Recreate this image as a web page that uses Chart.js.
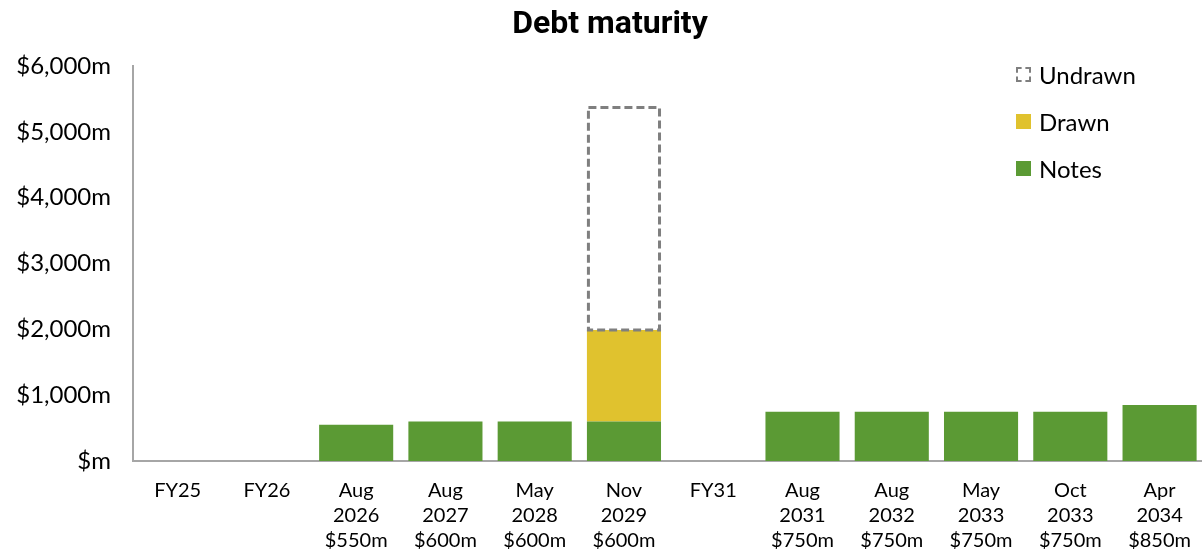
<!DOCTYPE html>
<html lang="en">
<head>
    <meta charset="UTF-8">
    <title>Debt maturity</title>
    <script src="https://cdn.jsdelivr.net/npm/chart.js"></script>
    <style>
        body {
            margin: 0;
            padding: 0;
            background: #ffffff;
            overflow: hidden;
        }

        .wrap {
            position: relative;
            width: 1202px;
            height: 552px;
            overflow: hidden;
        }

        /* legend sits inside the plot, top right, stacked */
        .legend {
            position: absolute;
            left: 1016px;
            top: 60px;
            font-family: Lato, sans-serif;
            font-size: 24px;
            color: #000;
        }

        .legend div {
            height: 47px;
            display: flex;
            align-items: flex-start;
        }

        .legend span.box {
            display: inline-block;
            width: 15px;
            height: 15px;
            margin: 7px 8px 0 0;
            box-sizing: border-box;
        }
    </style>
</head>
<body>

<div class="wrap">
    <!-- canvas a little wider than the window: last bar runs to the edge -->
    <canvas id="debtChart" width="1208" height="552"></canvas>
    <div class="legend" id="legend"></div>
</div>

<script>
    // categories and maturity amounts
    var months = ['FY25', 'FY26', 'Aug 2026', 'Aug 2027', 'May 2028', 'Nov 2029', 'FY31',
                  'Aug 2031', 'Aug 2032', 'May 2033', 'Oct 2033', 'Apr 2034'];
    var tickAmounts = ['', '', '$550m', '$600m', '$600m', '$600m', '',
                       '$750m', '$750m', '$750m', '$750m', '$850m'];

    // series ($m)
    var notes   = [0, 0, 550, 600, 600, 600, 0, 750, 750, 750, 750, 850];
    var drawn   = [0, 0, 0, 0, 0, 1390, 0, 0, 0, 0, 0, 0];
    var undrawn = [0, 0, 0, 0, 0, 3380, 0, 0, 0, 0, 0, 0];

    // y axis ticks
    var yTicks = [0, 1000, 2000, 3000, 4000, 5000, 6000];

    var green = '#5b9a34';
    var yellow = '#e0c22e';
    var grey = '#7f7f7f';

    var tickLabels = months.map(function (m, i) {
        var lines = m.split(' ');
        if (tickAmounts[i]) lines.push(tickAmounts[i]);
        return lines;
    });

    // bars don't support dashed borders, so outline the undrawn bar here
    var dashedOutline = {
        id: 'dashedOutline',
        afterDatasetsDraw: function (chart) {
            var ctx = chart.ctx;
            chart.data.datasets.forEach(function (ds, di) {
                if (!ds.dashed) return;
                var meta = chart.getDatasetMeta(di);
                meta.data.forEach(function (bar, i) {
                    if (!ds.data[i]) return;
                    var p = bar.getProps(['x', 'y', 'base', 'width'], true);
                    ctx.save();
                    ctx.strokeStyle = grey;
                    ctx.lineWidth = 3;
                    ctx.setLineDash([8, 4]);
                    ctx.strokeRect(p.x - p.width / 2 + 1.5, p.y, p.width - 3, p.base - p.y);
                    ctx.restore();
                });
            });
        }
    };

    var ctx = document.getElementById('debtChart').getContext('2d');
    var debtChart = new Chart(ctx, {
        type: 'bar',
        data: {
            labels: tickLabels,
            datasets: [
                { label: 'Notes', data: notes, backgroundColor: green },
                { label: 'Drawn', data: drawn, backgroundColor: yellow },
                { label: 'Undrawn', data: undrawn, backgroundColor: 'rgba(0,0,0,0)', dashed: true }
            ]
        },
        options: {
            responsive: false,
            animation: false,
            layout: { padding: { left: 12, right: 0, top: 0, bottom: 0 } },
            datasets: {
                bar: { categoryPercentage: 1.0, barPercentage: 0.83 }
            },
            plugins: {
                legend: { display: false },
                tooltip: { enabled: false },
                title: {
                    display: true,
                    text: 'Debt maturity',
                    color: '#000',
                    font: { family: 'Roboto', size: 32, weight: 'bold' },
                    padding: { top: 6, bottom: 21.6 }
                }
            },
            scales: {
                x: {
                    stacked: true,
                    grid: { display: false, drawTicks: false },
                    border: { display: true, color: '#a6a6a6', width: 2 },
                    ticks: {
                        color: '#000',
                        font: { family: 'Lato', size: 20, lineHeight: 1.25 },
                        padding: 17,
                        maxRotation: 0,
                        autoSkip: false
                    },
                    afterFit: function (scale) { scale.height = 91; }
                },
                y: {
                    stacked: true,
                    min: 0,
                    max: 6000,
                    grid: { display: false, drawTicks: false },
                    border: { display: true, color: '#a6a6a6', width: 2 },
                    afterBuildTicks: function (scale) {
                        scale.ticks = yTicks.map(function (v) { return { value: v }; });
                    },
                    ticks: {
                        color: '#000',
                        font: { family: 'Lato', size: 24 },
                        padding: 22,
                        callback: function (v) {
                            return v === 0 ? '$m' : '$' + v.toLocaleString('en-US') + 'm';
                        }
                    },
                    afterFit: function (scale) { scale.width = 121; }
                }
            }
        },
        plugins: [dashedOutline]
    });

    // html legend, top series first
    var legendEl = document.getElementById('legend');
    debtChart.data.datasets.slice().reverse().forEach(function (ds) {
        var row = document.createElement('div');
        var box = document.createElement('span');
        box.className = 'box';
        if (ds.dashed) {
            box.style.border = '2px dashed ' + grey;
        } else {
            box.style.background = ds.backgroundColor;
        }
        row.appendChild(box);
        row.appendChild(document.createTextNode(ds.label));
        legendEl.appendChild(row);
    });
</script>
</body>
</html>
